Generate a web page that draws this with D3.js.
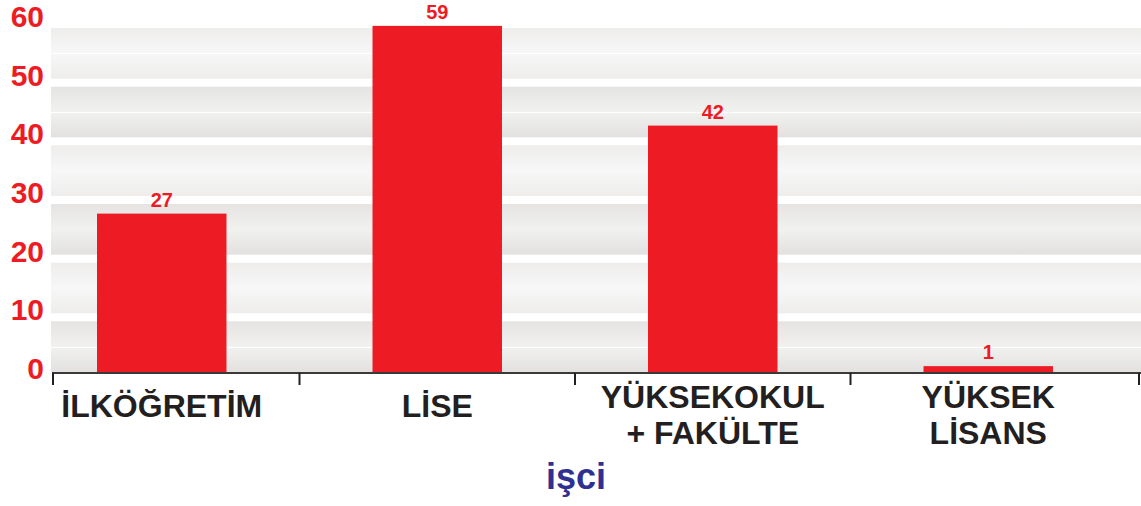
<!DOCTYPE html>
<html>
<head>
<meta charset="utf-8">
<script src="https://cdn.jsdelivr.net/npm/d3@7"></script>
<style>
  html, body { margin: 0; padding: 0; background: #fff; }
  svg { display: block; font-family: "Liberation Sans", Arial, Helvetica, sans-serif; }
</style>
</head>
<body>
<script>
// chart data
var categories = ["İLKÖĞRETİM", "LİSE", "YÜKSEKOKUL\n+ FAKÜLTE", "YÜKSEK\nLİSANS"];
var values = [27, 59, 42, 1];
var yTicks = [0, 10, 20, 30, 40, 50, 60];
var title = "işci";
var splitBands = [0, 40, 50]; // bands that carry a thin white line in the middle

var width = 1141, height = 506;
var red = "#ed1c24";

var svg = d3.select("body")
            .append("svg")
            .attr("width", width)
            .attr("height", height);

var y = d3.scaleLinear()
          .domain([0, 60])
          .range([372, 20]);

var x = d3.scaleBand()
          .domain(categories)
          .range([24, 1126])
          .paddingInner(0.53)
          .paddingOuter(0.265);

var plotLeft = 51, plotRight = width;

// gradients for the striped background
var defs = svg.append("defs");
var grads = [
  {id: "bandDark", stops: ["#e5e4e3", "#f1f1f0", "#e2e1e0"]},
  {id: "bandLight", stops: ["#eeedec", "#f7f7f7", "#eeedec"]}
];
grads.forEach(function(g) {
  var lg = defs.append("linearGradient")
               .attr("id", g.id)
               .attr("x1", 0).attr("y1", 0)
               .attr("x2", 0).attr("y2", 1);
  g.stops.forEach(function(c, i) {
    lg.append("stop")
      .attr("offset", (i * 50) + "%")
      .attr("stop-color", c);
  });
});

// background bands between ticks
var bandData = yTicks.slice(0, -1);
svg.append("g")
   .selectAll("rect")
   .data(bandData)
   .enter()
   .append("rect")
   .attr("x", plotLeft)
   .attr("width", plotRight - plotLeft)
   .attr("y", function(d) { return y(d + 10) + 8; })
   .attr("height", function(d) { return y(d) - y(d + 10) - 8; })
   .attr("fill", function(d, i) { return i % 2 == 0 ? "url(#bandDark)" : "url(#bandLight)"; });

svg.append("g")
   .selectAll("line")
   .data(splitBands)
   .enter()
   .append("line")
   .attr("x1", plotLeft)
   .attr("x2", plotRight)
   .attr("y1", function(d) { return Math.round((y(d + 10) + 8 + y(d)) / 2) + 0.5; })
   .attr("y2", function(d) { return Math.round((y(d + 10) + 8 + y(d)) / 2) + 0.5; })
   .attr("stroke", "#fff")
   .attr("stroke-width", 1.2);

// y tick labels
svg.append("g")
   .selectAll("text")
   .data(yTicks)
   .enter()
   .append("text")
   .attr("x", 44)
   .attr("y", function(d) { return y(d) + 7; })
   .attr("text-anchor", "end")
   .attr("fill", red)
   .style("font-size", "30px")
   .style("font-weight", "bold")
   .text(function(d) { return d; });

// bars
svg.append("g")
   .selectAll("rect")
   .data(values)
   .enter()
   .append("rect")
   .attr("x", function(d, i) { return x(categories[i]); })
   .attr("width", x.bandwidth())
   .attr("y", function(d) { return y(d); })
   .attr("height", function(d) { return y(0) - y(d); })
   .attr("fill", red);

// value labels
svg.append("g")
   .selectAll("text")
   .data(values)
   .enter()
   .append("text")
   .attr("x", function(d, i) { return x(categories[i]) + x.bandwidth() / 2; })
   .attr("y", function(d) { return y(d) - 7; })
   .attr("text-anchor", "middle")
   .attr("fill", red)
   .style("font-size", "20px")
   .style("font-weight", "bold")
   .text(function(d) { return d; });

// x axis line and ticks
var axisY = y(0) + 1;
svg.append("line")
   .attr("x1", plotLeft + 1)
   .attr("x2", plotRight)
   .attr("y1", axisY)
   .attr("y2", axisY)
   .attr("stroke", "#3a3a3a")
   .attr("stroke-width", 2);

var tickX = [plotLeft + 2];
categories.slice(1).forEach(function(c) {
  tickX.push(x(c) - x.step() * x.paddingInner() / 2);
});
tickX.push(plotRight - 2);

svg.append("g")
   .selectAll("line")
   .data(tickX)
   .enter()
   .append("line")
   .attr("x1", function(d) { return d; })
   .attr("x2", function(d) { return d; })
   .attr("y1", axisY)
   .attr("y2", axisY + 12)
   .attr("stroke", "#231f20")
   .attr("stroke-width", 2);

// category labels
var catLabels = svg.append("g")
   .selectAll("text")
   .data(categories)
   .enter()
   .append("text")
   .attr("text-anchor", "middle")
   .attr("fill", "#231f20")
   .style("font-size", "32px")
   .style("font-weight", "bold");

catLabels.each(function(d) {
  var lines = d.split("\n");
  var cx = x(d) + x.bandwidth() / 2;
  var base = lines.length == 1 ? 417 : 408;
  var t = d3.select(this);
  lines.forEach(function(l, i) {
    t.append("tspan")
     .attr("x", cx)
     .attr("y", base + i * 36)
     .text(l);
  });
});

// title
svg.append("text")
   .attr("x", 576)
   .attr("y", 489)
   .attr("text-anchor", "middle")
   .attr("fill", "#2e3192")
   .style("font-size", "36px")
   .style("font-weight", "bold")
   .text(title);
</script>
</body>
</html>
